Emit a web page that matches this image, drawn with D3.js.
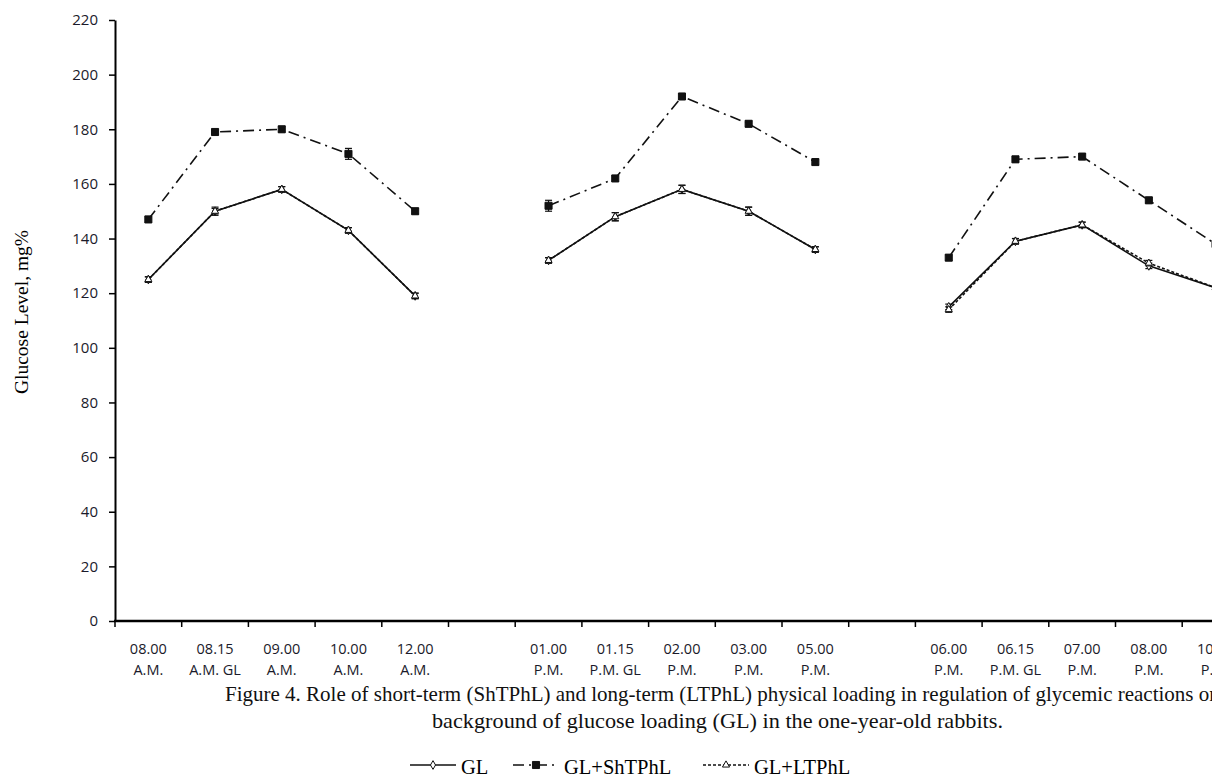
<!DOCTYPE html>
<html>
<head>
<meta charset="utf-8">
<script src="https://cdn.jsdelivr.net/npm/d3@7"></script>
<style>
  body { margin: 0; background: #fff; }
  svg { display: block; }
</style>
</head>
<body>
<svg id="chart" width="1212" height="775"></svg>
<script>
// x categories, null = empty slot between day parts
var timeLabels = ["08.00", "08.15", "09.00", "10.00", "12.00", null,
  "01.00", "01.15", "02.00", "03.00", "05.00", null,
  "06.00", "06.15", "07.00", "08.00", "10.00"];
var partLabels = ["A.M.", "A.M. GL", "A.M.", "A.M.", "A.M.", null,
  "P.M.", "P.M. GL", "P.M.", "P.M.", "P.M.", null,
  "P.M.", "P.M. GL", "P.M.", "P.M.", "P.M."];

var glValues = [125, 150, 158, 143, 119, null, 132, 148, 158, 150, 136, null, 115, 139, 145, 130, 122];
var glErrors = [1, 1, 1, 1, 1, null, 1, 1.5, 1.5, 1.5, 1, null, 1, 1, 1, 1, 1];
var shValues = [147, 179, 180, 171, 150, null, 152, 162, 192, 182, 168, null, 133, 169, 170, 154, 138];
var shErrors = [1, 1, 1, 2, 1, null, 2, 1, 1, 1, 1, null, 1, 1, 1, 1, 1];
var ltValues = [125, 150, 158, 143, 119, null, 132, 148, 158, 150, 136, null, 114, 139, 145, 131, 122];
var ltErrors = [1, 1.5, 1, 1, 1, null, 1, 1.5, 1.5, 1.5, 1, null, 1, 1, 1, 1, 1];

var yTicks = [0, 20, 40, 60, 80, 100, 120, 140, 160, 180, 200, 220];

var seriesNames = ["GL", "GL+ShTPhL", "GL+LTPhL"];

function buildChart() {
  var chart = d3.select("#chart");

  var left = 115, plotTop = 20, bottom = 621;
  var slot = 66.7;

  var x = d3.scaleBand()
    .domain(d3.range(timeLabels.length))
    .range([left, left + slot * timeLabels.length])
    .padding(0);
  var y = d3.scaleLinear().domain([0, 220]).range([bottom, plotTop]);

  var cx = function (i) { return x(i) + x.bandwidth() / 2; };

  // y axis
  var yAxis = chart.append("g")
    .attr("transform", "translate(" + left + ",0)")
    .call(d3.axisLeft(y).tickValues(yTicks).tickSize(6).tickSizeOuter(0));
  yAxis.select(".domain").attr("stroke", "#000").attr("stroke-width", 2);
  yAxis.selectAll(".tick line").attr("stroke", "#000").attr("stroke-width", 1.5);
  yAxis.selectAll(".tick text")
    .attr("x", -17)
    .attr("fill", "#1a1a2a")
    .style("font-family", "Open Sans, sans-serif")
    .style("font-size", "15px");

  // x axis line and boundary ticks
  chart.append("line")
    .attr("x1", left - 1).attr("x2", 1212)
    .attr("y1", bottom).attr("y2", bottom)
    .attr("stroke", "#000").attr("stroke-width", 2.5);

  chart.append("g").selectAll("line")
    .data(d3.range(timeLabels.length + 1))
    .enter().append("line")
    .attr("x1", function (i) { return left + i * x.bandwidth(); })
    .attr("x2", function (i) { return left + i * x.bandwidth(); })
    .attr("y1", bottom).attr("y2", bottom + 6)
    .attr("stroke", "#000").attr("stroke-width", 1.5);

  var xl = chart.append("g")
    .style("font-family", "Open Sans, sans-serif")
    .style("font-size", "14.5px")
    .attr("fill", "#1a1a2a")
    .attr("text-anchor", "middle");
  timeLabels.forEach(function (t, i) {
    if (t === null) return;
    xl.append("text").attr("x", cx(i)).attr("y", 654).text(t);
    xl.append("text").attr("x", cx(i)).attr("y", 675).text(partLabels[i]);
  });

  // y axis title
  chart.append("text")
    .text("Glucose Level, mg%")
    .attr("text-anchor", "middle")
    .attr("transform", "translate(28,312) rotate(-90)")
    .style("font-family", "Liberation Serif, serif")
    .style("font-size", "19.5px");

  // series
  var series = [
    { name: seriesNames[0], values: glValues, errors: glErrors, dash: null, marker: "diamond" },
    { name: seriesNames[1], values: shValues, errors: shErrors, dash: "11,5,2,5", marker: "square" },
    { name: seriesNames[2], values: ltValues, errors: ltErrors, dash: "3,2", marker: "triangle" }
  ];

  var line = d3.line()
    .defined(function (d) { return d !== null; })
    .x(function (d, i) { return cx(i); })
    .y(function (d) { return y(d); });

  var symbols = {
    diamond: d3.symbol().type(d3.symbolDiamond).size(22),
    square: d3.symbol().type(d3.symbolSquare).size(50),
    triangle: d3.symbol().type(d3.symbolTriangle).size(22)
  };

  series.forEach(function (s) {
    var g = chart.append("g");
    g.append("path")
      .attr("d", line(s.values))
      .attr("fill", "none")
      .attr("stroke", "#111")
      .attr("stroke-width", 1.6)
      .attr("stroke-dasharray", s.dash);

    s.values.forEach(function (v, i) {
      if (v === null) return;
      var e = s.errors[i];
      g.append("line")
        .attr("x1", cx(i)).attr("x2", cx(i))
        .attr("y1", y(v - e)).attr("y2", y(v + e))
        .attr("stroke", "#111").attr("stroke-width", 1.2);
      [v - e, v + e].forEach(function (b) {
        g.append("line")
          .attr("x1", cx(i) - 3.5).attr("x2", cx(i) + 3.5)
          .attr("y1", y(b)).attr("y2", y(b))
          .attr("stroke", "#111").attr("stroke-width", 1.2);
      });
      g.append("path")
        .attr("d", symbols[s.marker]())
        .attr("transform", "translate(" + cx(i) + "," + y(v) + ")")
        .attr("fill", s.marker === "square" ? "#111" : "#fff")
        .attr("stroke", "#111")
        .attr("stroke-width", 1);
    });
  });

  // caption
  var cap = chart.append("g")
    .style("font-family", "Liberation Serif, serif")
    .style("font-size", "21px")
    .attr("fill", "#111");
  cap.append("text").attr("x", 225).attr("y", 701)
    .text("Figure 4. Role of short-term (ShTPhL) and long-term (LTPhL) physical loading in regulation of glycemic reactions on");
  cap.append("text").attr("x", 432).attr("y", 728)
    .attr("textLength", 571)
    .attr("lengthAdjust", "spacingAndGlyphs")
    .text("background of glucose loading (GL) in the one-year-old rabbits.");

  // legend
  var legendX = [410, 513, 703];
  var lg = chart.append("g")
    .style("font-family", "Liberation Serif, serif")
    .style("font-size", "20.5px");
  series.forEach(function (s, k) {
    var lx = legendX[k], ly = 765;
    lg.append("line")
      .attr("x1", lx).attr("x2", lx + 46)
      .attr("y1", ly).attr("y2", ly)
      .attr("stroke", "#111").attr("stroke-width", 1.5)
      .attr("stroke-dasharray", s.dash);
    lg.append("path")
      .attr("d", symbols[s.marker]())
      .attr("transform", "translate(" + (lx + 23) + "," + ly + ")")
      .attr("fill", s.marker === "square" ? "#111" : "#fff")
      .attr("stroke", "#111").attr("stroke-width", 1);
    lg.append("text")
      .attr("x", lx + 51).attr("y", ly + 9)
      .text(s.name);
  });
}

buildChart();
</script>
</body>
</html>
